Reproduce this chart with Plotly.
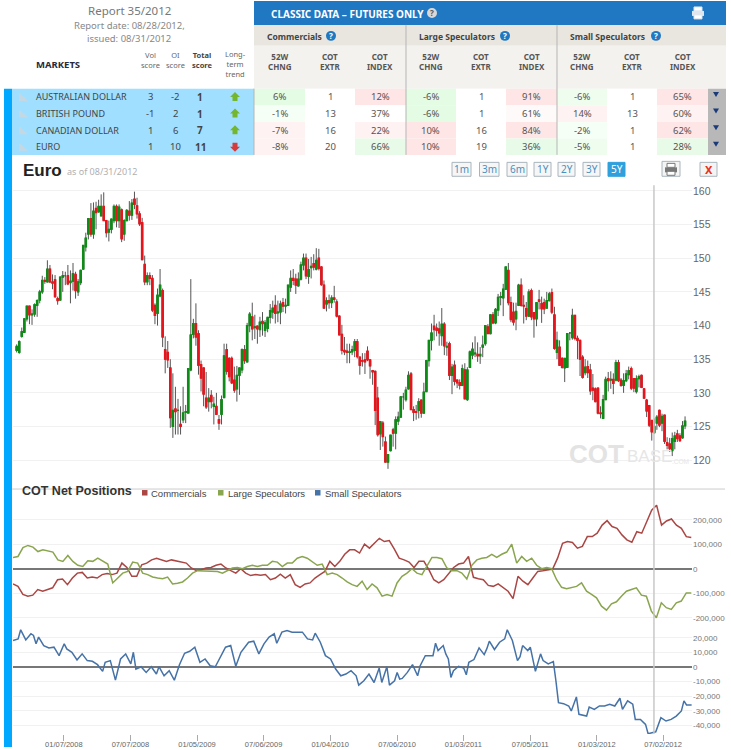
# COT report screen: Euro candles with net positions
import numpy as np
import pandas as pd
import plotly.graph_objects as go

W = 731
H = 750

# market table
markets = ["AUSTRALIAN DOLLAR", "BRITISH POUND", "CANADIAN DOLLAR", "EURO"]
vol_score = [3, -1, 1, 1]
oi_score = [-2, 2, 6, 10]
total_score = [1, 1, 7, 11]
trend = ["up", "up", "up", "down"]
comm_chng = ["6%", "-1%", "-7%", "-8%"]
comm_extr = ["1", "13", "16", "20"]
comm_index = ["12%", "37%", "22%", "66%"]
large_chng = ["-6%", "-6%", "10%", "10%"]
large_extr = ["1", "1", "16", "19"]
large_index = ["91%", "61%", "84%", "36%"]
small_chng = ["-6%", "14%", "-2%", "-5%"]
small_extr = ["1", "13", "1", "1"]
small_index = ["65%", "60%", "62%", "28%"]
range_labels = ["1m", "3m", "6m", "1Y", "2Y", "3Y", "5Y"]

# weekly euro futures prices
opens = [
    136.3,136.0,138.4,139.0,141.0,142.9,141.6,141.7,143.0,143.8,
    145.0,146.7,146.5,148.4,146.5,146.8,144.0,143.8,147.2,147.4,
    147.4,146.4,146.6,147.6,145.0,146.4,148.4,151.7,153.6,155.9,
    153.6,157.4,156.9,156.3,157.7,155.6,153.9,154.3,155.6,157.7,
    155.6,157.2,153.6,155.6,157.0,156.4,158.8,157.8,156.6,155.3,
    149.1,146.5,147.4,147.0,143.0,141.8,144.4,145.2,136.4,136.0,
    133.7,125.0,127.6,127.4,125.3,126.0,127.1,127.0,133.4,138.7,
    140.3,138.8,134.2,133.7,129.2,128.7,129.6,128.0,128.0,126.0,
    126.8,129.3,136.4,135.1,135.1,131.9,130.6,132.6,133.4,136.4,
    134.6,140.0,141.3,139.7,139.9,139.4,140.6,139.3,139.6,141.2,
    142.0,143.0,141.9,142.0,143.4,142.9,143.0,145.7,147.0,146.9,
    145.9,146.9,149.0,150.0,147.3,148.6,149.2,148.4,150.0,148.7,
    146.0,143.2,143.7,143.4,144.1,143.5,141.4,138.7,136.3,136.2,
    136.0,136.1,136.3,137.6,135.3,134.8,134.9,136.2,134.9,133.3,
    133.2,129.2,123.9,125.5,122.7,119.7,121.4,124.5,124.0,125.8,
    126.4,129.4,129.0,130.6,132.8,127.5,127.2,127.4,128.9,127.0,
    130.2,134.8,137.8,139.9,139.6,139.5,138.5,140.2,136.8,137.3,
    132.6,134.1,131.9,131.5,131.1,133.4,129.0,133.8,135.6,135.8,
    135.7,135.5,136.8,137.3,139.8,138.8,141.6,140.4,142.3,144.2,
    144.1,145.4,148.2,143.4,142.0,141.0,143.0,146.0,143.0,142.5,
    141.4,145.2,141.9,141.0,143.8,143.3,143.4,142.6,143.7,144.9,
    141.6,136.0,136.8,135.1,133.7,133.8,138.9,138.2,141.5,138.1,
    137.8,135.3,133.0,133.9,133.4,130.7,130.6,130.7,127.0,126.2,
    129.0,132.1,131.9,132.0,131.9,134.5,131.9,131.1,131.8,132.7,
    133.6,132.1,130.2,132.1,132.6,130.6,128.9,128.1,125.9,124.1,
    125.5,127.4,125.5,126.7,122.6,122.4,121.4,122.8,123.9,123.6,
    123.3,125.1]
highs = [
    137.2,137.8,139.7,141.0,142.9,142.9,142.4,143.3,143.9,145.3,
    147.4,147.2,149.7,149.0,147.6,147.5,144.3,147.3,148.1,148.0,
    149.0,148.2,149.3,148.0,146.9,148.3,151.9,153.8,155.9,158.2,
    158.3,158.4,158.7,159.5,159.8,155.7,155.6,155.9,158.0,158.0,
    158.0,157.4,155.8,157.3,158.5,158.8,159.9,159.0,157.0,156.0,
    150.4,147.9,147.9,147.5,143.3,145.5,148.4,145.5,138.4,137.7,
    135.0,132.9,130.9,129.1,128.0,130.9,128.2,133.6,146.9,141.0,
    143.3,139.3,134.8,133.7,133.1,130.7,130.4,129.4,130.0,126.7,
    129.6,137.3,137.3,135.3,135.4,133.9,134.0,133.7,136.6,137.1,
    140.4,142.0,143.4,141.6,140.0,141.3,142.0,140.8,141.3,143.2,
    143.7,144.5,143.7,143.7,144.1,144.0,146.0,148.2,148.4,147.7,
    147.9,149.5,150.7,150.7,149.9,150.2,150.6,151.5,151.4,148.8,
    146.7,144.2,144.6,144.5,145.9,143.9,141.5,140.1,138.3,137.3,
    137.3,137.0,138.0,138.0,135.4,135.9,135.9,136.9,135.0,133.4,
    133.3,130.9,125.8,125.8,123.5,120.9,123.7,124.8,126.5,127.2,
    129.5,130.0,130.9,133.2,133.1,128.0,128.2,129.2,129.0,131.5,
    134.9,137.8,140.3,141.6,140.3,140.6,142.6,140.5,137.6,137.6,
    134.3,134.8,132.0,132.0,134.2,134.4,133.8,136.3,137.5,138.4,
    137.5,136.8,138.5,140.0,140.2,141.7,142.0,142.6,144.7,145.0,
    146.2,148.7,149.3,144.3,143.4,143.4,146.2,147.0,144.5,143.5,
    145.4,145.5,141.9,143.5,145.3,144.3,144.0,145.0,145.0,145.5,
    142.8,139.1,137.8,135.3,135.2,138.8,139.0,142.5,141.6,138.5,
    137.9,135.6,135.0,134.8,134.3,132.8,130.8,130.8,128.0,129.7,
    132.4,133.1,133.2,132.9,134.9,134.9,132.2,132.9,133.4,133.9,
    133.9,132.1,132.6,132.7,132.7,130.7,129.1,128.2,125.9,126.2,
    126.7,127.5,126.9,126.7,123.4,123.3,124.1,124.2,124.5,124.0,
    125.8,126.5]
lows = [
    136.0,135.8,138.2,138.9,140.6,140.2,140.1,141.3,141.3,143.3,
    144.7,146.2,146.4,146.3,145.4,144.1,143.1,143.7,145.0,146.0,
    146.0,143.3,145.2,144.0,144.4,146.0,148.3,151.0,152.8,153.2,
    152.9,154.3,156.8,156.3,155.6,153.1,152.5,153.7,155.2,154.6,
    154.5,152.4,152.6,155.5,155.6,155.7,157.3,155.9,154.8,149.7,
    146.0,146.0,146.0,142.0,140.2,140.0,144.2,136.8,132.9,133.7,
    124.8,123.3,123.8,123.8,123.8,125.5,125.5,127.0,133.2,138.1,
    137.0,132.7,130.2,128.0,127.6,127.2,127.7,125.3,126.7,124.5,
    125.3,129.2,132.7,131.7,131.3,130.0,128.7,129.7,132.9,134.3,
    134.5,139.0,137.8,138.0,137.3,138.3,138.5,138.3,139.0,140.3,
    141.0,140.3,140.5,140.2,142.0,141.8,143.0,145.0,146.0,144.7,
    145.8,146.7,148.2,146.9,146.2,147.0,148.2,148.2,148.2,145.9,
    142.5,142.1,142.5,142.6,143.4,141.2,138.6,135.7,135.6,134.4,
    134.4,135.6,135.3,135.1,132.7,133.9,132.8,134.7,132.1,131.2,
    125.2,123.5,121.5,122.0,119.7,118.7,121.3,122.0,121.6,125.2,
    126.3,127.5,128.7,130.5,127.5,125.8,126.0,126.2,126.3,126.9,
    130.1,133.9,136.3,137.8,138.4,137.0,137.0,135.6,135.5,131.9,
    129.8,131.1,130.7,130.5,131.0,129.1,128.8,133.7,135.0,135.3,
    134.6,134.3,135.3,137.0,138.8,138.7,140.2,140.2,141.4,143.0,
    141.4,145.3,143.0,140.5,140.0,139.3,142.9,142.8,140.3,140.8,
    141.3,140.8,138.2,139.9,142.4,140.4,141.7,142.5,143.6,141.7,
    136.4,135.0,134.0,133.6,131.6,133.7,137.8,137.9,137.8,135.0,
    132.5,132.1,132.6,132.2,129.7,128.9,128.6,126.8,126.2,126.1,
    128.9,130.2,130.6,129.8,131.7,131.6,130.9,130.0,131.6,132.0,
    130.4,130.1,129.9,130.8,130.7,129.2,126.4,124.9,122.9,123.9,
    124.5,124.9,124.3,122.4,121.6,121.2,120.6,121.6,122.7,122.7,
    123.2,124.6]
closes = [
    136.9,137.6,139.1,141.0,142.9,141.6,141.7,143.1,143.7,145.0,
    146.7,146.6,148.4,146.5,146.3,144.3,143.7,147.2,147.4,147.4,
    146.2,146.6,147.7,145.2,146.5,148.2,151.9,153.0,155.9,153.6,
    157.0,156.8,157.7,157.7,155.6,153.8,154.3,155.8,157.7,155.6,
    157.6,152.9,155.6,157.1,156.4,158.2,158.0,156.6,155.1,149.8,
    146.5,147.4,147.0,142.3,141.5,144.5,146.0,138.3,135.0,134.9,
    126.3,127.4,127.2,127.4,125.0,127.0,127.2,133.6,138.6,140.3,
    138.3,134.1,132.2,129.8,127.9,129.2,128.7,128.3,126.8,125.5,
    129.0,135.5,133.2,132.4,131.5,130.4,132.6,133.7,136.4,134.8,
    140.0,141.7,139.5,139.8,139.5,140.5,140.3,140.4,141.2,142.2,
    142.6,141.8,142.0,143.2,142.9,143.0,146.0,147.0,146.7,146.0,
    146.9,149.0,150.0,147.4,148.3,148.8,148.7,149.7,148.5,146.1,
    142.6,143.7,143.4,144.1,143.9,141.4,138.6,136.3,136.1,136.0,
    136.1,136.4,137.6,135.4,134.1,134.7,134.6,134.9,134.0,133.1,
    127.4,123.8,125.7,123.5,119.7,120.8,123.7,124.0,126.0,126.4,
    129.4,129.4,130.4,132.6,127.5,127.1,127.1,128.7,127.0,130.1,
    134.8,137.8,138.9,139.4,139.3,138.9,140.2,137.0,136.9,132.6,
    133.8,131.7,131.5,131.1,133.6,129.1,133.4,136.1,136.5,135.9,
    135.5,135.7,137.1,140.0,138.8,141.6,140.4,142.4,144.2,144.3,
    145.4,148.7,143.4,140.9,140.5,142.1,146.0,143.0,142.9,141.4,
    145.0,141.3,141.0,143.4,143.6,142.5,142.5,143.7,144.7,142.0,
    136.6,137.8,134.1,133.8,135.1,138.8,138.9,141.5,138.1,137.8,
    135.0,132.3,133.8,133.0,130.3,130.4,128.7,127.0,126.9,129.0,
    132.0,131.8,132.0,131.4,134.5,131.8,131.1,131.8,132.8,133.3,
    130.7,130.7,132.1,132.4,130.8,129.2,127.3,125.2,124.2,125.0,
    126.4,125.2,126.5,122.8,122.2,121.7,123.2,123.6,123.2,122.9,
    125.1,125.8]

# net positions, thousands of contracts
commercials = [
    -62,-72,-105,-112,-108,-85,-92,-85,-78,-45,-42,-65,-38,-18,-15,-38,-34,-38,-24,-20,
    -24,-18,23,5,-31,-31,16,23,36,43,36,30,36,32,27,23,3,-7,-4,3,
    5,14,19,3,-8,-18,0,-18,-28,-24,-27,-24,-45,-38,-22,-38,-24,-65,-76,-62,
    -58,-38,-24,-11,30,9,30,59,77,77,64,100,84,104,124,111,115,81,43,36,
    27,5,30,30,-4,-45,-58,-45,-18,5,19,23,50,-35,-41,-45,-68,-72,-62,-76,
    -92,-122,-31,-51,-65,-38,-11,-8,-5,-1,43,104,111,107,84,91,131,131,145,178,
    196,172,165,138,118,108,151,145,192,239,259,178,195,203,178,165,131,127]
large_specs = [
    46,50,86,95,88,70,77,73,68,36,30,54,30,14,9,32,30,43,30,19,
    -58,-38,-18,-11,27,23,-18,-24,-34,-38,-41,-34,-62,-59,-54,-38,-18,-8,-8,-8,
    -11,-11,-18,-8,3,5,0,9,14,9,14,14,30,27,9,23,23,43,50,43,
    30,14,19,-24,-18,-24,-38,-54,-65,-72,-51,-85,-62,-78,-112,-105,-112,-58,-31,
    -18,0,-18,-24,14,46,46,41,3,-8,-8,-18,-42,14,36,43,46,59,46,59,
    68,100,23,50,30,43,14,0,5,0,-45,-76,-82,-76,-72,-58,-92,-105,-119,-153,
    -169,-143,-135,-112,-92,-85,-78,-108,-112,-173,-200,-139,-159,-166,-139,-132,-99,-99]
small_weeks = [
    0,2,3,5,7,8,9,10,12,14,16,18,20,21,23,25,27,29,31,33,
    35,36,38,40,42,44,46,47,48,50,52,54,56,57,59,61,63,65,67,69,
    71,73,75,77,79,81,83,85,87,89,92,94,96,98,100,102,103,105,107,109,
    111,113,115,117,118,120,122,124,126,128,130,132,134,135,137,139,141,143,144,146,
    147,149,150,151,
    152,154,156,157,158,159,161,164,165,166,168,169,170,171,172,174,176,177,178,180,
    182,184,185,186,188,190,192,193,195,197,198,199,201,202,204,206,207,209,211,212,
    213,215,217,218,220,221,224,225,227,229,231,233,235,237,238,240,242,243,245,247,
    248,251,253,255,257,259,261,262,263,265]
small_specs = [
    18.2,19.3,25.5,18.6,22.8,21.6,15.9,20.5,14.7,13.1,13.6,7.8,15.9,12.4,10.1,4.8,9.0,4.4,3.9,1.6,
    -3.0,3.2,4.4,-9.0,5.5,9.0,2.1,10.1,-1.4,0.2,-3.7,0.2,-4.8,0.2,-6.0,-2.5,-9.0,1.6,9.4,10.8,
    13.6,3.2,5.5,0.9,0.2,7.1,13.6,14.7,0.5,10.1,17.0,17.7,9.0,15.9,20.5,22.8,16.3,23.9,25.0,23.9,
    23.9,23.9,19.3,18.6,23.2,17.0,7.8,5.5,-1.4,-6.0,-4.8,-2.5,-6.0,-12.4,-9.4,-4.8,-10.6,-0.7,-10.6,0.2,
    -12.4,-9.4,-3.7,-8.3,
    -7.8,-3.7,1.6,-2.5,-6.0,0.9,7.8,7.8,16.3,11.3,14.7,9.0,5.5,-7.1,-2.5,0.5,-0.7,-5.3,3.2,5.1,
    13.1,8.5,12.4,17.7,12.0,17.0,19.3,25.5,18.2,4.4,7.1,14.7,11.3,13.6,-3.0,9.0,4.4,2.1,3.7,-9.4,
    -24.4,-25.1,-26.7,-30.1,-20.5,-32.4,-33.6,-27.4,-29.0,-26.7,-26.7,-25.5,-26.7,-21.4,-29.0,-23.2,-25.5,-35.9,-35.9,-39.3,
    -45.7,-44.4,-34.7,-37.0,-35.9,-33.6,-30.1,-23.2,-26.0,-26.0]

# axis ticks
price_ticks = [120, 125, 130, 135, 140, 145, 150, 155, 160]
net_ticks = [-200000, -100000, 0, 100000, 200000]
net_labels = ["-200,000", "-100,000", "0", "100,000", "200,000"]
small_ticks = [-40000, -30000, -20000, -10000, 0, 10000, 20000]
small_labels = ["-40,000", "-30,000", "-20,000", "-10,000", "0", "10,000", "20,000"]
date_ticks = ["2008-01-07", "2008-07-07", "2009-01-05", "2009-07-06", "2010-01-04",
              "2010-07-06", "2011-01-03", "2011-07-05", "2012-01-03", "2012-07-02"]
date_labels = ["01/07/2008", "07/07/2008", "01/05/2009", "07/06/2009", "01/04/2010",
               "07/06/2010", "01/03/2011", "07/05/2011", "01/03/2012", "07/02/2012"]

x_range = ["2007-08-21", "2012-09-19"]
candle_dates = pd.date_range("2007-08-31", periods=len(closes), freq="7D")
comm_dates = pd.date_range(x_range[0], "2012-09-17", periods=len(commercials))
large_dates = pd.date_range(x_range[0], "2012-09-17", periods=len(large_specs))
small_dates = pd.Timestamp(x_range[0]) + pd.to_timedelta(np.array(small_weeks) * 7, unit="D")

GREEN_C = "#e4fbe4"
PALE_G = "#f6fff6"
RED_C = "#ffe6e6"
PALE_R = "#fff2f2"
NONE_C = "#ffffff"
cell_fills = [
    [GREEN_C, NONE_C, RED_C, GREEN_C, NONE_C, RED_C, "#eefdee", NONE_C, RED_C],
    [PALE_G, NONE_C, NONE_C, GREEN_C, NONE_C, "#fffafa", PALE_R, NONE_C, PALE_R],
    [PALE_R, NONE_C, PALE_R, RED_C, NONE_C, RED_C, PALE_G, NONE_C, RED_C],
    [PALE_R, NONE_C, "#e8fbe8", RED_C, NONE_C, "#e8fbe8", "#effdef", NONE_C, "#e8fbe8"],
]
cell_columns = [comm_chng, comm_extr, comm_index, large_chng, large_extr, large_index,
                small_chng, small_extr, small_index]
col_edges = [254, 305, 355, 406, 456, 506, 557, 607, 657, 708]
row_edges = [89, 105.7, 122.4, 139, 155.5]

shapes = []
notes = []


def fx(px):
    return px / W


def fy(py):
    return 1 - py / H


def rect(x0, y0, x1, y1, fill, line=None, width=1):
    shapes.append(dict(type="rect", xref="paper", yref="paper", x0=fx(x0), x1=fx(x1),
                       y0=fy(y1), y1=fy(y0), fillcolor=fill, layer="below",
                       line=dict(color=line or fill, width=width if line else 0)))


def poly(points, fill):
    path = "M" + " L".join(f"{fx(a):.5f},{fy(b):.5f}" for a, b in points) + " Z"
    shapes.append(dict(type="path", xref="paper", yref="paper", path=path,
                       fillcolor=fill, line=dict(width=0)))


def circle(cx, cy, r, fill):
    shapes.append(dict(type="circle", xref="paper", yref="paper", x0=fx(cx - r), x1=fx(cx + r),
                       y0=fy(cy + r), y1=fy(cy - r), fillcolor=fill, line=dict(width=0)))


def label(x, y, text, size=10, color="#444444", anchor="center", family="Noto Sans"):
    notes.append(dict(xref="paper", yref="paper", x=fx(x), y=fy(y), text=text, showarrow=False,
                      xanchor=anchor, yanchor="middle", borderpad=0, align="center",
                      font=dict(size=size, color=color, family=family)))


def help_mark(cx, cy, fill):
    circle(cx, cy, 5, fill)
    label(cx, cy, "<b>?</b>", 8, "#ffffff")


def printer(cx, cy, body, paper):
    rect(cx - 6, cy - 2, cx + 6, cy + 3, body)
    rect(cx - 4, cy - 6, cx + 4, cy - 2, paper, body)
    rect(cx - 4, cy + 2, cx + 4, cy + 6, paper, body)


# left block of the header
label(129, 11, "Report 35/2012", 11.5, "#777777")
label(129, 25.5, "Report date: 08/28/2012,", 9.5, "#888888")
label(129, 38.5, "issued: 08/31/2012", 9.5, "#888888")
label(35, 65, "<b>MARKETS</b>", 9.5, "#2a2a3a", "left")
label(150, 60, "Vol<br>score", 7.5, "#666666")
label(175, 60, "OI<br>score", 7.5, "#666666")
label(202, 60, "<b>Total<br>score</b>", 7.5, "#444444")
label(235, 64, "Long-<br>term<br>trend", 7.5, "#666666")

# classic data header
rect(254, 1, 726, 25, "#1f78c1")
rect(254, 25, 726, 46, "#e8e6df")
rect(254, 46, 726, 89, "#f3f2ee")
label(270, 14, "<b>CLASSIC DATA – FUTURES ONLY</b>", 10, "#ffffff", "left")
circle(432, 13, 5, "#d8d8d8")
label(432, 13, "<b>?</b>", 8, "#555555")
printer(698, 13, "#dfe6ee", "#ffffff")
for x, name in zip([266, 418, 569], ["Commercials", "Large Speculators", "Small Speculators"]):
    label(x, 37, f"<b>{name}</b>", 8.5, "#444444", "left")
for cx in [331, 505, 656]:
    help_mark(cx, 36, "#1f78c1")
for i in range(9):
    cx = (col_edges[i] + col_edges[i + 1]) / 2
    text = ["52W<br>CHNG", "COT<br>EXTR", "COT<br>INDEX"][i % 3]
    label(cx, 62, f"<b>{text}</b>", 8, "#555555")

# market rows
rect(4, 89, 12, 750, "#00a8ff")
rect(12, 89, 254, 155.5, "#a0dfff")
rect(708, 89, 726, 155.5, "#b8b8b8")
for r, name in enumerate(markets):
    top, bottom = row_edges[r], row_edges[r + 1]
    mid = (top + bottom) / 2
    poly([(19, mid - 4), (28, mid + 4), (19, mid + 4)], "#c4d8e4")
    label(35, mid, name, 9, "#444444", "left")
    label(150, mid, str(vol_score[r]), 9.5)
    label(175, mid, str(oi_score[r]), 9.5)
    label(200, mid, f"<b>{total_score[r]}</b>", 10)
    if trend[r] == "up":
        poly([(235, mid - 5), (240, mid), (237.5, mid), (237.5, mid + 4), (232.5, mid + 4),
              (232.5, mid), (230, mid)], "#74b62e")
    else:
        poly([(235, mid + 5), (240, mid), (237.5, mid), (237.5, mid - 4), (232.5, mid - 4),
              (232.5, mid), (230, mid)], "#d63a3a")
    poly([(713, mid - 5), (719, mid - 5), (716, mid)], "#1a3a7a")
    for c in range(9):
        rect(col_edges[c], top, col_edges[c + 1], bottom, cell_fills[r][c])
        label((col_edges[c] + col_edges[c + 1]) / 2, mid, cell_columns[c][r], 9.5, "#555555")
for x in [254, 406, 557]:
    y0 = 89 if x == 254 else 25
    shapes.append(dict(type="line", xref="paper", yref="paper", x0=fx(x), x1=fx(x), y0=fy(y0),
                       y1=fy(155.5), line=dict(color="#b5b5b5", width=1)))

# chart title row
label(22, 171, "<b>Euro</b>", 17, "#222222", "left", "Liberation Sans")
label(66, 172.5, "as of 08/31/2012", 9, "#b0b0b0", "left")
btn_left = [452, 479.5, 507, 534, 558, 583, 608]
btn_right = [471, 499, 527, 551, 575, 600, 625]
for i, text in enumerate(range_labels):
    active = text == "5Y"
    rect(btn_left[i], 163, btn_right[i], 177, "#2fa0dc" if active else "#f6f6f6",
         "#2fa0dc" if active else "#a8b4bc")
    label((btn_left[i] + btn_right[i]) / 2, 170, text, 10,
          "#ffffff" if active else "#4a8fbf")
rect(662, 162, 680, 177, "#f4f4f4", "#a8b4bc")
printer(671, 170, "#777777", "#ffffff")
rect(700, 163, 717, 177, "#f4f4f4", "#a8b4bc")
label(708.5, 170, "<b>X</b>", 11, "#e8301c")

# watermark
label(568, 456, "<b>COT</b>", 26, "#e3e3e3", "left", "Liberation Sans")
label(626, 458, "BASE", 17, "#e6e6e6", "left", "Liberation Sans")
label(671, 463, ".COM", 6.5, "#e6e6e6", "left", "Liberation Sans")

# net positions title and legend
label(21, 492.5, "<b>COT Net Positions</b>", 12.5, "#333333", "left", "Liberation Sans")
legend_x = [(142, 150, "#AA4643", "Commercials"),
            (218, 227, "#89A54E", "Large Speculators"),
            (315, 324, "#4572A7", "Small Speculators")]
for sx, tx, col, text in legend_x:
    rect(sx, 492, sx + 5.5, 497.5, col)
    label(tx, 495, text, 9.5, "#444444", "left", "Liberation Sans")
shapes.append(dict(type="line", xref="paper", yref="paper", x0=fx(12), x1=fx(725), y0=fy(491),
                   y1=fy(491), line=dict(color="#cccccc", width=1), layer="below"))

# crosshair
shapes.append(dict(type="line", xref="x3", yref="paper", x0="2012-06-07", x1="2012-06-07",
                   y0=fy(186), y1=fy(737), line=dict(color="#c8c8c8", width=1.5)))

fig = go.Figure()

# wicks
fig.add_trace(go.Candlestick(
    x=candle_dates, open=opens, high=highs, low=lows, close=closes,
    whiskerwidth=0, xaxis="x", yaxis="y",
    increasing=dict(line=dict(color="#555555", width=1), fillcolor="#555555"),
    decreasing=dict(line=dict(color="#555555", width=1), fillcolor="#555555")))
# bodies
body_high = np.maximum(opens, closes)
body_low = np.minimum(opens, closes)
fig.add_trace(go.Candlestick(
    x=candle_dates, open=opens, high=body_high, low=body_low, close=closes,
    whiskerwidth=0, xaxis="x", yaxis="y",
    increasing=dict(line=dict(color="#0c8c14", width=1.3), fillcolor="#0c8c14"),
    decreasing=dict(line=dict(color="#e8141c", width=1.3), fillcolor="#e8141c")))

fig.add_trace(go.Scatter(x=comm_dates, y=np.array(commercials) * 1000, mode="lines",
                         line=dict(color="#AA4643", width=1.5), xaxis="x2", yaxis="y2"))
fig.add_trace(go.Scatter(x=large_dates, y=np.array(large_specs) * 1000, mode="lines",
                         line=dict(color="#89A54E", width=1.5), xaxis="x2", yaxis="y2"))
fig.add_trace(go.Scatter(x=small_dates, y=np.array(small_specs) * 1000, mode="lines",
                         line=dict(color="#4572A7", width=1.5), xaxis="x3", yaxis="y3"))

x_domain = [fx(13), fx(692)]
hidden_x = dict(domain=x_domain, range=x_range, type="date", showgrid=False, showline=False,
                showticklabels=False, ticks="", zeroline=False, rangeslider=dict(visible=False))
grid = "#f1f1f1"
fig.update_layout(
    width=W, height=H, margin=dict(l=0, r=0, t=0, b=0), autosize=False,
    paper_bgcolor="white", plot_bgcolor="rgba(0,0,0,0)", showlegend=False,
    font=dict(family="Liberation Sans"),
    shapes=shapes, annotations=notes,
    xaxis=dict(hidden_x, anchor="y"),
    xaxis2=dict(hidden_x, anchor="y2"),
    xaxis3=dict(hidden_x, anchor="y3", showticklabels=True, ticks="outside", ticklen=6,
                tickcolor="#aaaaaa", tickvals=date_ticks, ticktext=date_labels,
                tickfont=dict(size=7.5, color="#666666"), ticklabelstandoff=-3),
    yaxis=dict(domain=[fy(491), fy(185)], range=[115.7, 161], side="right", anchor="x",
               tickvals=price_ticks, gridcolor=grid, showline=False, zeroline=False, ticks="",
               tickfont=dict(size=10.5, color="#666666")),
    yaxis2=dict(domain=[fy(622), fy(491)], range=[-207300, 325200], side="right", anchor="x2",
                tickvals=net_ticks, ticktext=net_labels, gridcolor=grid, showline=False,
                zeroline=True, zerolinecolor="#777777", zerolinewidth=1.5, ticks="",
                tickfont=dict(size=8, color="#777777")),
    yaxis3=dict(domain=[fy(737), fy(622)], range=[-45940, 32560], side="right", anchor="x3",
                tickvals=small_ticks, ticktext=small_labels, gridcolor=grid, showline=False,
                zeroline=True, zerolinecolor="#777777", zerolinewidth=1.5, ticks="",
                tickfont=dict(size=8, color="#777777")),
)

fit_page = ("document.documentElement.style.overflow='hidden';"
            "document.body.style.cssText='margin:0;position:fixed;top:0;left:0;"
            "width:731px;height:750px;overflow:hidden;';")
fig.write_html("out.html", post_script=fit_page, config=dict(displayModeBar=False))
